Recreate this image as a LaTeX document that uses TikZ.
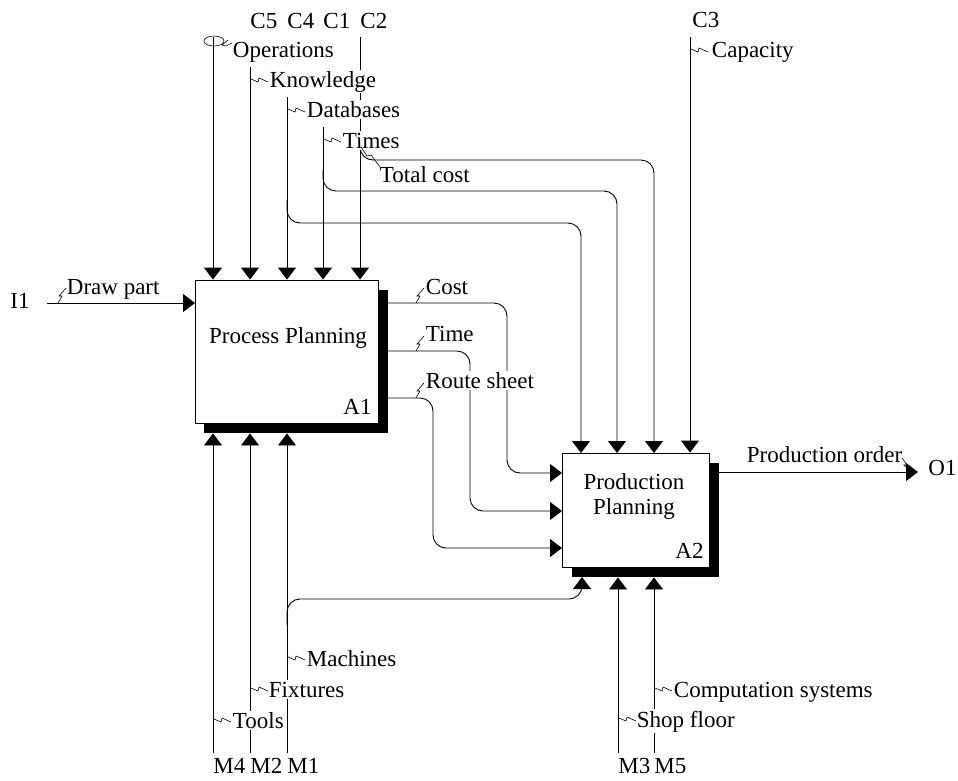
\documentclass[tikz,border=0pt]{standalone}
\usepackage{fontspec}
\setmainfont{Liberation Serif}
\usetikzlibrary{arrows.meta,calc,backgrounds}
\newcommand\zigh[1]{\draw[line width=0.6pt] (#1) ++(0,-1) -- ++(7,3) -- ++(1,-4) -- ++(9,4);}
\newcommand\zigv[1]{\draw[line width=0.6pt] (#1) -- ++(4,-7) -- ++(-3,0) -- ++(7,-8);}
\begin{document}
\begin{tikzpicture}[x=1pt,y=-1pt,line width=0.9pt,
  box/.style={draw,fill=white,inner sep=0pt},
  fnt/.style={font=\fontsize{23}{27}\selectfont},
  lbl/.style={fnt,anchor=base west,inner sep=1.5pt,fill=white},
  txt/.style={fnt,inner sep=0pt},
  arr/.style={-{Triangle[width=18pt,length=12pt]}},
  rc/.style={rounded corners=13pt}]
\useasboundingbox (0,0) rectangle (958,780);

% boxes
\node[box,minimum width=183pt,minimum height=143pt] (A1) at (286.5,351.5) {};
\node[box,minimum width=147pt,minimum height=114pt] (A2) at (635.5,510) {};
\begin{scope}[on background layer]
  \fill ($(A1.north west)+(9,10)$) rectangle ($(A1.south east)+(10,10)$);
  \fill ($(A2.north west)+(10,10)$) rectangle ($(A2.south east)+(10,10)$);
\end{scope}
\node[txt,anchor=base] (t1) at (288,343) {Process Planning};
\node[txt,anchor=base east] (n1) at (372,414) {A1};
\node[txt,anchor=base] (t2a) at (634,489) {Production};
\node[txt,anchor=base] (t2b) at (634,514) {Planning};
\node[txt,anchor=base east] (n2) at (704,558) {A2};

% coordinates
\coordinate (c5) at (213,37);
\coordinate (kn) at (250,67);
\coordinate (db) at (287,97);
\coordinate (tm) at (323,127);
\coordinate (c2) at (360,37);
\coordinate (c3) at (690,37);
\coordinate (i1) at (47,303);
\coordinate (a1in) at (195,303);
\coordinate (o1) at (918,472);
\coordinate (a2out) at (719,472);
\coordinate (m4) at (213,753);
\coordinate (m2) at (250,753);
\coordinate (m1) at (287,753);
\coordinate (m3) at (618,753);
\coordinate (m5) at (654,753);
\coordinate (A1s) at ($(A1.south)+(0,10)$);
\coordinate (A2s) at ($(A2.south)+(0,10)$);

% controls of A1
\foreach \c in {c5,kn,db,tm,c2} \draw[arr] (\c) -- (\c |- A1.north);
% controls of A2
\draw[arr,rc] (287,200) -- (287,223) -- (581,223) -- (581,453);
\draw[arr,rc] (323,170) -- (323,191) -- (617,191) -- (617,453);
\draw[arr,rc] (360,140) -- (360,160) -- (654,160) -- (654,453);
\draw[arr] (c3) -- (c3 |- A2.north);

% input
\draw[arr] (i1) -- (a1in);
% outputs of A1 to inputs of A2
\draw[arr,rc] (388,303) -- (507,303) -- (507,473) -- (562,473);
\draw[arr,rc] (388,351) -- (470,351) -- (470,511) -- (562,511);
\draw[arr,rc] (388,398) -- (433,398) -- (433,548) -- (562,548);
% output
\draw[arr] (a2out) -- (o1);

% mechanisms
\foreach \m in {m4,m2,m1} \draw[arr] (\m) -- (\m |- A1s);
\foreach \m in {m3,m5} \draw[arr] (\m) -- (\m |- A2s);
\draw[arr,rc] (287,625) -- (287,599) -- (582,599) -- (582,577);

% boundary labels
\node[txt,anchor=base west] (lc5) at (250,28) {C5};
\node[txt,anchor=base west] (lc4) at (287,28) {C4};
\node[txt,anchor=base west] (lc1) at (323,28) {C1};
\node[txt,anchor=base west] (lc2) at (360,28) {C2};
\node[txt,anchor=base west] (lc3) at (692,27) {C3};
\node[txt,anchor=base west] (li1) at (10,308) {I1};
\node[txt,anchor=base west] (lo1) at (928,475) {O1};
\node[txt,anchor=base west] (lm4) at (213,773) {M4};
\node[txt,anchor=base west] (lm2) at (250,773) {M2};
\node[txt,anchor=base west] (lm1) at (287,773) {M1};
\node[txt,anchor=base west] (lm3) at (618,773) {M3};
\node[txt,anchor=base west] (lm5) at (654,773) {M5};

% arrow labels
\node[lbl] (lop) at (231,57) {Operations};
\node[lbl] (lkn) at (268,87) {Knowledge};
\node[lbl] (ldb) at (305,117) {Databases};
\node[lbl] (ltm) at (341,148) {Times};
\node[lbl] (ltc) at (378,182) {Total cost};
\node[lbl] (lcap) at (710,57) {Capacity};
\node[lbl] (ldp) at (65,294) {Draw part};
\node[lbl] (lcost) at (424,294) {Cost};
\node[lbl] (ltime) at (424,341) {Time};
\node[lbl] (lrs) at (424,388) {Route sheet};
\node[lbl] (lpo) at (745,462) {Production order};
\node[lbl] (lma) at (305,666) {Machines};
\node[lbl] (lfx) at (267,697) {Fixtures};
\node[lbl] (lto) at (231,728) {Tools};
\node[lbl] (lcs) at (672,697) {Computation systems};
\node[lbl] (lsf) at (635,727) {Shop floor};

% squiggles
\draw[line width=0.6pt] (214,41) ellipse (10 and 5);
\draw[line width=0.6pt] (228,40) -- (222,45) -- (226,46) -- (232,43);
\zigh{251,80}
\zigh{288,110}
\zigh{324,140}
\draw[line width=0.6pt] (361,147) -- (367,156) -- (371,155) -- (380,167);
\zigh{691,50}
\zigv{58,303}
\zigv{416,303}
\zigv{416,351}
\zigv{416,398}
\draw[line width=0.6pt] (902,458) -- (907,465) -- (904,465) -- (911,471);
\zigh{288,658}
\zigh{251,689}
\zigh{214,720}
\zigh{655,689}
\zigh{619,719}
\end{tikzpicture}
\end{document}
